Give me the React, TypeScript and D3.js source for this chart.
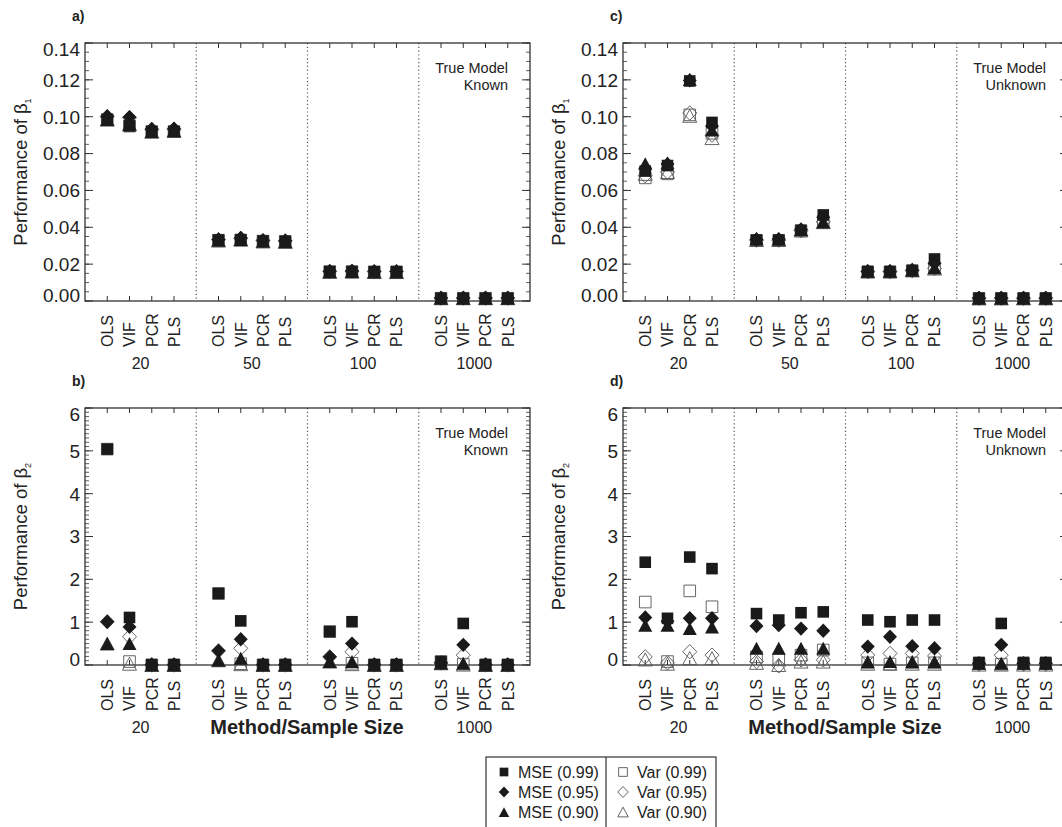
import React from "react";
import * as d3 from "d3";

const methods = ["OLS", "VIF", "PCR", "PLS"];
const sampleSizes = ["20", "50", "100", "1000"];
const legendMse = ["MSE (0.99)", "MSE (0.95)", "MSE (0.90)"];
const legendVar = ["Var (0.99)", "Var (0.95)", "Var (0.90)"];

// every array: sample size 20, 50, 100, 1000, each with OLS, VIF, PCR, PLS
// a) beta1, true model known
const aMse99 = [0.0985, 0.095, 0.092, 0.092, 0.0331, 0.0332, 0.0326, 0.0324, 0.016, 0.016, 0.0159, 0.0159, 0.0015, 0.0015, 0.0015, 0.0015];
const aMse95 = [0.1003, 0.0998, 0.0933, 0.0935, 0.0334, 0.0342, 0.0329, 0.0327, 0.0162, 0.0163, 0.0161, 0.0161, 0.0016, 0.0016, 0.0016, 0.0016];
const aMse90 = [0.0985, 0.096, 0.092, 0.0925, 0.0329, 0.0334, 0.0324, 0.0322, 0.0159, 0.016, 0.0158, 0.0158, 0.0015, 0.0015, 0.0015, 0.0015];
const aVar99 = [0.0984, 0.0949, 0.0919, 0.0919, 0.033, 0.0331, 0.0325, 0.0323, 0.0159, 0.0159, 0.0158, 0.0158, 0.0015, 0.0015, 0.0015, 0.0015];
const aVar95 = [0.1, 0.0995, 0.093, 0.0932, 0.0333, 0.034, 0.0328, 0.0326, 0.0161, 0.0162, 0.016, 0.016, 0.0016, 0.0016, 0.0016, 0.0016];
const aVar90 = [0.0984, 0.0958, 0.0918, 0.0923, 0.0328, 0.0333, 0.0323, 0.0321, 0.0158, 0.0159, 0.0157, 0.0157, 0.0015, 0.0015, 0.0015, 0.0015];

// b) beta2, true model known
const bMse99 = [5.04, 1.11, 0.01, 0.01, 1.67, 1.03, 0.01, 0.01, 0.78, 1.01, 0.01, 0.01, 0.08, 0.97, 0.01, 0.01];
const bMse95 = [1.01, 0.89, 0.01, 0.01, 0.33, 0.6, 0.01, 0.01, 0.19, 0.5, 0.01, 0.01, 0.05, 0.47, 0.01, 0.01];
const bMse90 = [0.5, 0.5, 0.0, 0.0, 0.11, 0.16, 0.0, 0.0, 0.08, 0.08, 0.0, 0.0, 0.04, 0.04, 0.0, 0.0];
const bVar99 = [5.04, 0.08, 0.0, 0.0, 1.67, 0.03, 0.0, 0.0, 0.78, 0.04, 0.0, 0.0, 0.08, 0.02, 0.0, 0.0];
const bVar95 = [1.01, 0.66, 0.0, 0.0, 0.33, 0.39, 0.0, 0.0, 0.19, 0.31, 0.0, 0.0, 0.05, 0.23, 0.0, 0.0];
const bVar90 = [0.5, 0.03, 0.0, 0.0, 0.11, 0.02, 0.0, 0.0, 0.08, 0.02, 0.0, 0.0, 0.04, 0.01, 0.0, 0.0];

// c) beta1, true model unknown
const cMse99 = [0.0705, 0.0735, 0.1194, 0.0969, 0.0331, 0.0331, 0.0384, 0.0467, 0.016, 0.016, 0.0166, 0.0228, 0.0015, 0.0015, 0.0015, 0.0015];
const cMse95 = [0.072, 0.0743, 0.1197, 0.095, 0.0334, 0.0336, 0.0388, 0.0455, 0.0162, 0.0162, 0.0168, 0.0205, 0.0016, 0.0016, 0.0016, 0.0016];
const cMse90 = [0.0745, 0.075, 0.1202, 0.0928, 0.034, 0.0338, 0.0388, 0.0429, 0.0162, 0.0162, 0.0168, 0.018, 0.0015, 0.0015, 0.0015, 0.0015];
const cVar99 = [0.0668, 0.069, 0.101, 0.091, 0.0328, 0.0328, 0.038, 0.0432, 0.0158, 0.0158, 0.0164, 0.0178, 0.0014, 0.0014, 0.0014, 0.0014];
const cVar95 = [0.068, 0.07, 0.102, 0.09, 0.033, 0.033, 0.0382, 0.043, 0.0159, 0.0159, 0.0165, 0.0177, 0.0015, 0.0015, 0.0015, 0.0015];
const cVar90 = [0.069, 0.07, 0.1005, 0.0884, 0.0331, 0.0331, 0.0383, 0.0428, 0.016, 0.016, 0.0166, 0.0176, 0.0014, 0.0014, 0.0014, 0.0014];

// d) beta2, true model unknown
const dMse99 = [2.4, 1.09, 2.52, 2.25, 1.2, 1.05, 1.22, 1.24, 1.05, 1.01, 1.05, 1.05, 0.06, 0.97, 0.06, 0.06];
const dMse95 = [1.11, 1.02, 1.09, 1.09, 0.91, 0.93, 0.85, 0.8, 0.43, 0.66, 0.44, 0.39, 0.04, 0.47, 0.04, 0.04];
const dMse90 = [0.93, 0.93, 0.85, 0.89, 0.39, 0.39, 0.39, 0.39, 0.08, 0.08, 0.08, 0.08, 0.04, 0.04, 0.04, 0.04];
const dVar99 = [1.47, 0.08, 1.73, 1.36, 0.19, 0.12, 0.23, 0.35, 0.05, 0.02, 0.05, 0.05, 0.03, 0.02, 0.03, 0.03];
const dVar95 = [0.19, 0.05, 0.31, 0.23, 0.08, -0.02, 0.12, 0.12, 0.23, 0.27, 0.27, 0.21, 0.02, 0.23, 0.02, 0.02];
const dVar90 = [0.13, 0.03, 0.16, 0.16, 0.05, 0.0, 0.08, 0.08, 0.03, 0.03, 0.03, 0.03, 0.01, 0.01, 0.01, 0.01];

const FONT = "'Liberation Sans', Arial, Helvetica, sans-serif";
const INK = "#222";
const AXIS = "#333";

function shapePath(shape: string, s = 1) {
  const p = d3.path();
  if (shape === "square") {
    const h = 5.8 * s;
    p.rect(-h, -h, 2 * h, 2 * h);
  } else if (shape === "diamond") {
    const w = 7 * s, h = 7.2 * s;
    p.moveTo(0, -h); p.lineTo(w, 0); p.lineTo(0, h); p.lineTo(-w, 0); p.closePath();
  } else {
    const w = 7 * s, h = 6.5 * s;
    p.moveTo(0, -h); p.lineTo(w, h); p.lineTo(-w, h); p.closePath();
  }
  return p.toString();
}

// the lower panels only show the outer sample-size labels; the middle ones sit under the axis title
const panels = [
  {
    id: "a)", left: 85, right: 530, top: 43, bottom: 301, domain: [0, 0.14], major: 7, minor: 28,
    fmt: d3.format(".2f"), sub: "1", note: ["True Model", "Known"], groups: [0, 1, 2, 3],
    open: [aVar99, aVar95, aVar90], filled: [aMse99, aMse95, aMse90],
  },
  {
    id: "b)", left: 85, right: 530, top: 408, bottom: 665, domain: [0, 6], major: 6, minor: 60,
    fmt: d3.format("d"), sub: "2", note: ["True Model", "Known"], groups: [0, 3],
    open: [bVar99, bVar95, bVar90], filled: [bMse99, bMse95, bMse90],
  },
  {
    id: "c)", left: 623, right: 1068, top: 43, bottom: 301, domain: [0, 0.14], major: 7, minor: 28,
    fmt: d3.format(".2f"), sub: "1", note: ["True Model", "Unknown"], groups: [0, 1, 2, 3],
    open: [cVar99, cVar95, cVar90], filled: [cMse99, cMse95, cMse90],
  },
  {
    id: "d)", left: 623, right: 1068, top: 408, bottom: 665, domain: [0, 6], major: 6, minor: 60,
    fmt: d3.format("d"), sub: "2", note: ["True Model", "Unknown"], groups: [0, 3],
    open: [dVar99, dVar95, dVar90], filled: [dMse99, dMse95, dMse90],
  },
];

const shapes = ["square", "diamond", "triangle"];

function Panel({ p }: { p: any }) {
  const x = d3.scaleLinear().domain([0, 20]).range([p.left, p.right]);
  const y = d3.scaleLinear().domain(p.domain).range([p.bottom, p.top]);
  const majors = d3.ticks(p.domain[0], p.domain[1], p.major);
  const minors = d3.ticks(p.domain[0], p.domain[1], p.minor);
  const slots: { g: number; k: number; pos: number }[] = [];
  sampleSizes.forEach((_, g) => methods.forEach((_, k) => slots.push({ g, k, pos: g * 5 + k + 1 })));
  const labelY = (v: number) => Math.min(Math.max(y(v), p.top + 6.5), p.bottom - 6);
  const midY = (p.top + p.bottom) / 2;

  return (
    <g>
      <text x={p.left - 13} y={p.top - 22} fontSize={14} fontWeight="bold" fill={INK}>{p.id}</text>

      {[5, 10, 15].map((d) => (
        <line key={d} x1={x(d)} x2={x(d)} y1={p.top} y2={p.bottom} stroke="#555" strokeWidth={1.2} strokeDasharray="1.2,2.6" />
      ))}

      {minors.map((v, i) => (
        <g key={"mi" + i}>
          <line x1={p.left} x2={p.left + 4} y1={y(v)} y2={y(v)} stroke={AXIS} strokeWidth={0.8} />
          <line x1={p.right} x2={p.right - 4} y1={y(v)} y2={y(v)} stroke={AXIS} strokeWidth={0.8} />
        </g>
      ))}
      {majors.map((v, i) => (
        <g key={"ma" + i}>
          <line x1={p.left} x2={p.left + 8} y1={y(v)} y2={y(v)} stroke={AXIS} strokeWidth={1} />
          <line x1={p.right} x2={p.right - 8} y1={y(v)} y2={y(v)} stroke={AXIS} strokeWidth={1} />
          <text x={p.left - 5} y={labelY(v)} dy="0.36em" textAnchor="end" fontSize={19} fill={INK}>{p.fmt(v)}</text>
        </g>
      ))}

      {slots.map((s) => (
        <g key={"t" + s.pos}>
          <line x1={x(s.pos)} x2={x(s.pos)} y1={p.top} y2={p.top + 5} stroke={AXIS} strokeWidth={1} />
          <line x1={x(s.pos)} x2={x(s.pos)} y1={p.bottom} y2={p.bottom - 5} stroke={AXIS} strokeWidth={1} />
          <text transform={`translate(${x(s.pos)},${p.bottom + 46}) rotate(-90)`} dy="0.36em" fontSize={16} fill={INK}>
            {methods[s.k]}
          </text>
        </g>
      ))}
      {p.groups.map((g: number) => (
        <text key={g} x={x(g * 5 + 2.5)} y={p.bottom + 62} dy="0.36em" textAnchor="middle" fontSize={16} fill={INK}>{sampleSizes[g]}</text>
      ))}

      <rect x={p.left} y={p.top} width={p.right - p.left} height={p.bottom - p.top} fill="none" stroke={AXIS} strokeWidth={1.3} />

      <text transform={`translate(${p.left - 65},${midY}) rotate(-90)`} textAnchor="middle" dy="0.36em" fontSize={18.5} fill={INK}>
        Performance of β<tspan fontSize={9} dy="0.45em">{p.sub}</tspan>
      </text>

      {p.note.map((t: string, i: number) => (
        <text key={t} x={p.right - 22} y={p.top + 25 + i * 17} dy="0.36em" textAnchor="end" fontSize={14.5} fill={INK}>{t}</text>
      ))}

      {p.open.map((vals: number[], si: number) =>
        vals.map((v, i) => (
          <path key={"o" + si + "-" + i} d={shapePath(shapes[si])} transform={`translate(${x(slots[i].pos)},${y(v)})`}
            fill="none" stroke="#555" strokeWidth={0.9} />
        ))
      )}
      {p.filled.map((vals: number[], si: number) =>
        vals.map((v, i) => (
          <path key={"f" + si + "-" + i} d={shapePath(shapes[si])} transform={`translate(${x(slots[i].pos)},${y(v)})`}
            fill="#1a1a1a" />
        ))
      )}
    </g>
  );
}

function Legend() {
  const rows = d3.scalePoint<number>().domain([0, 1, 2]).range([772, 812]);
  return (
    <g>
      <rect x={486} y={757} width={230} height={90} fill="white" stroke={AXIS} strokeWidth={1.2} />
      <line x1={606} x2={606} y1={757} y2={847} stroke={AXIS} strokeWidth={1.2} />
      {legendMse.map((t, i) => (
        <g key={t}>
          <path d={shapePath(shapes[i], 0.75)} transform={`translate(504,${rows(i)})`} fill="#1a1a1a" />
          <text x={518} y={rows(i)} dy="0.36em" fontSize={16} fill={INK}>{t}</text>
        </g>
      ))}
      {legendVar.map((t, i) => (
        <g key={t}>
          <path d={shapePath(shapes[i], 0.75)} transform={`translate(623,${rows(i)})`} fill="none" stroke="#555" strokeWidth={0.9} />
          <text x={637} y={rows(i)} dy="0.36em" fontSize={16} fill={INK}>{t}</text>
        </g>
      ))}
    </g>
  );
}

export default function App() {
  return (
    <svg width={1062} height={827} style={{ position: "absolute", left: 0, top: 0, background: "white" }} fontFamily={FONT}>
      {panels.map((p) => <Panel key={p.id} p={p} />)}
      <text x={307} y={727} dy="0.36em" textAnchor="middle" fontSize={20} fontWeight="bold" fill={INK}>Method/Sample Size</text>
      <text x={845} y={727} dy="0.36em" textAnchor="middle" fontSize={20} fontWeight="bold" fill={INK}>Method/Sample Size</text>
      <Legend />
    </svg>
  );
}
